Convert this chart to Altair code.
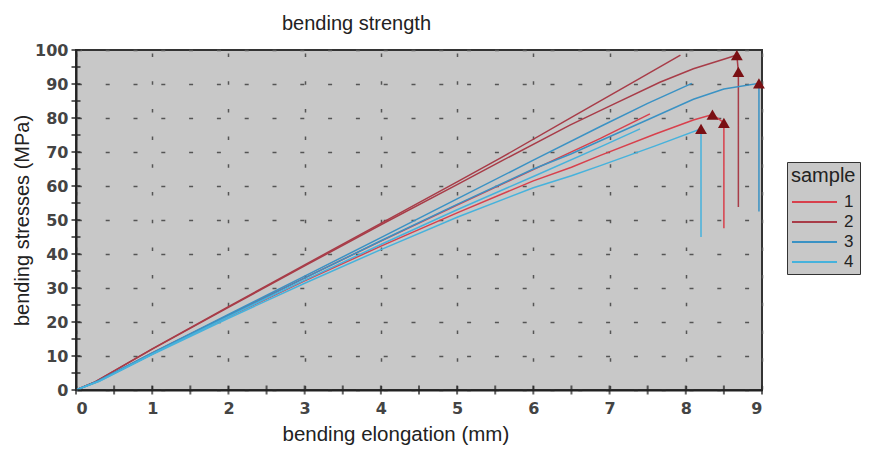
import altair as alt
import pandas as pd

# ---- curves (bending elongation mm, bending stress MPa) ----
# sample 1 (red)
s1a_x = [0, 0.3, 1, 2, 3, 4, 5, 6, 6.88, 7.53]
s1a_y = [0, 2.7, 10.9, 22.0, 33.0, 43.8, 54.4, 64.8, 74.0, 81.2]
s1b_x = [0, 0.3, 1, 2, 3, 4, 5, 6, 6.5, 6.88, 7.6, 8.1, 8.35, 8.5, 8.5]
s1b_y = [0, 2.6, 10.7, 21.5, 32.1, 42.3, 52.1, 61.5, 65.5, 69.0, 75.3, 79.4, 81.0, 78.6, 47.6]
# sample 2 (dark red)
s2a_x = [0, 0.25, 1, 2, 3, 4, 5, 5.56, 6.5, 7.3, 7.93]
s2a_y = [0, 2.4, 12.1, 24.5, 36.8, 49.0, 61.2, 68.1, 80.2, 90.4, 98.5]
s2b_x = [0, 0.25, 1, 2, 3, 4, 5, 5.56, 6.48, 7.0, 7.66, 8.1, 8.54, 8.67, 8.69, 8.69]
s2b_y = [0, 2.4, 12.0, 24.3, 36.5, 48.6, 60.4, 67.1, 77.9, 83.5, 90.5, 94.5, 97.6, 98.5, 93.6, 53.8]
# sample 3 (blue)
s3a_x = [0, 0.3, 1, 2, 3, 4, 5, 6, 6.88, 7.5, 8.08]
s3a_y = [0, 2.8, 10.9, 22.2, 33.5, 44.8, 56.2, 67.6, 77.5, 84.3, 90.2]
s3b_x = [0, 0.3, 1, 2, 3, 4, 5, 6, 6.5, 6.88, 7.5, 8.1, 8.5, 8.96, 8.96]
s3b_y = [0, 2.6, 10.6, 21.8, 32.9, 43.9, 54.6, 65.0, 69.5, 73.3, 79.5, 85.5, 88.5, 90.2, 52.5]
# sample 4 (light blue)
s4a_x = [0, 0.3, 1, 2, 3, 4, 5, 6, 6.88, 7.4]
s4a_y = [0, 2.6, 10.6, 21.6, 32.3, 42.8, 53.0, 62.8, 71.5, 76.8]
s4b_x = [0, 0.3, 1, 2, 3, 4, 5, 6, 6.5, 6.88, 7.6, 8.2, 8.2]
s4b_y = [0, 2.5, 10.4, 21.1, 31.4, 41.3, 50.8, 59.5, 63.0, 66.0, 71.8, 76.8, 45.0]

# failure markers
peak_x = [8.67, 8.69, 8.96, 8.35, 8.5, 8.2]
peak_y = [98.5, 93.6, 90.2, 81.0, 78.6, 76.8]

# axis ticks / labels
x_labels = [0, 1, 2, 3, 4, 5, 6, 7, 8, 9]
y_labels = [0, 10, 20, 30, 40, 50, 60, 70, 80, 90, 100]
x_minor = [0, 0.5, 1, 1.5, 2, 2.5, 3, 3.5, 4, 4.5, 5, 5.5, 6, 6.5, 7, 7.5, 8, 8.5, 9]
y_minor = [0, 5, 10, 15, 20, 25, 30, 35, 40, 45, 50, 55, 60, 65, 70, 75, 80, 85, 90, 95, 100]

samples = ["1", "2", "3", "4"]
colors = ["#d8404c", "#a83c48", "#3a92c4", "#46b2dc"]

curves = [
    ("1", s1a_x, s1a_y), ("1", s1b_x, s1b_y),
    ("2", s2a_x, s2a_y), ("2", s2b_x, s2b_y),
    ("3", s3a_x, s3a_y), ("3", s3b_x, s3b_y),
    ("4", s4a_x, s4a_y), ("4", s4b_x, s4b_y),
]
rows = []
for cid, (s, xs, ys) in enumerate(curves):
    for i, (xv, yv) in enumerate(zip(xs, ys)):
        rows.append({"x": xv, "y": yv, "sample": s, "curve": cid, "i": i})
df = pd.DataFrame(rows)
peaks = pd.DataFrame({"x": peak_x, "y": peak_y})
xt = pd.DataFrame({"x": x_minor, "y": [0] * len(x_minor)})
yt = pd.DataFrame({"y": y_minor, "x": [0] * len(y_minor)})

label_font = "DejaVu Sans"
title_font = "Liberation Sans"

x_axis = alt.Axis(
    values=x_labels, format="d", title="bending elongation (mm)", ticks=False,
    labelFont=label_font, labelFontSize=16, labelFontWeight="bold", labelColor="#444",
    labelPadding=10, labelOverlap=False, domainColor="#222", domainWidth=2,
    grid=True, gridColor="#555", gridWidth=1.5, gridDash=[3.5, 24.2], gridDashOffset=24.7,
    titleFont=title_font, titleFontSize=20.5, titleFontWeight="normal", titleColor="#222",
    titleX=206, titleY=50, titleAlign="left", titleBaseline="alphabetic",
)
y_axis = alt.Axis(
    values=y_labels, format="d", title="bending stresses (MPa)", ticks=False,
    labelFont=label_font, labelFontSize=16, labelFontWeight="bold", labelColor="#444",
    labelPadding=8, labelOverlap=False, domainColor="#222", domainWidth=2,
    grid=True, gridColor="#555", gridWidth=1.5, gridDash=[4, 23.8], gridDashOffset=26.4,
    titleFont=title_font, titleFontSize=20, titleFontWeight="normal", titleColor="#222",
    titleX=-54, titleY=170, titleAngle=270, titleAlign="center", titleBaseline="middle",
)
x_scale = alt.Scale(domain=[0, 9], nice=False, zero=False)
y_scale = alt.Scale(domain=[0, 100], nice=False, zero=False)

X = alt.X("x:Q", scale=x_scale, axis=x_axis)
Y = alt.Y("y:Q", scale=y_scale, axis=y_axis)

lines = alt.Chart(df).mark_line(strokeWidth=1.5).encode(
    x=X,
    y=Y,
    color=alt.Color(
        "sample:N",
        scale=alt.Scale(domain=samples, range=colors),
        legend=alt.Legend(
            title="sample", orient="none", legendX=711, legendY=112,
            fillColor="#c8c8c8", strokeColor="#333", padding=4,
            titleFont=title_font, titleFontSize=20, titleFontWeight="normal", titleColor="#222",
            titlePadding=6,
            labelFont=title_font, labelFontSize=17, labelColor="#222",
            symbolType="M-2.5,0H2.5", symbolSize=324, symbolStrokeWidth=2,
            symbolOffset=13.5, labelOffset=19.5, rowPadding=2,
        ),
    ),
    detail="curve:N",
    order="i:Q",
)

tri = alt.Chart(peaks).mark_point(
    shape="triangle-up", filled=True, color="#7a1014", size=140, opacity=1
).encode(x=X, y=Y)

xticks = alt.Chart(xt).mark_tick(orient="vertical", size=9, thickness=2, color="#222").encode(
    x=X, y=Y
)
yticks = alt.Chart(yt).mark_tick(orient="horizontal", size=9, thickness=2, color="#222").encode(
    x=X, y=Y
)

chart = alt.layer(lines, tri, xticks, yticks).properties(
    width=686, height=340,
    autosize=alt.AutoSizeParams(type="none"),
    padding={"left": 68, "top": 42, "right": 106, "bottom": 55},
    title=alt.TitleParams(
        "bending strength", anchor="start", frame="group", dx=206, dy=23, offset=15,
        font=title_font, fontSize=20, fontWeight="normal", color="#222",
        baseline="alphabetic",
    ),
    background="white",
).configure_view(stroke="#333", strokeWidth=2, fill="#c8c8c8")

chart.save("out.html", embed_options={"renderer": "svg", "actions": False})
